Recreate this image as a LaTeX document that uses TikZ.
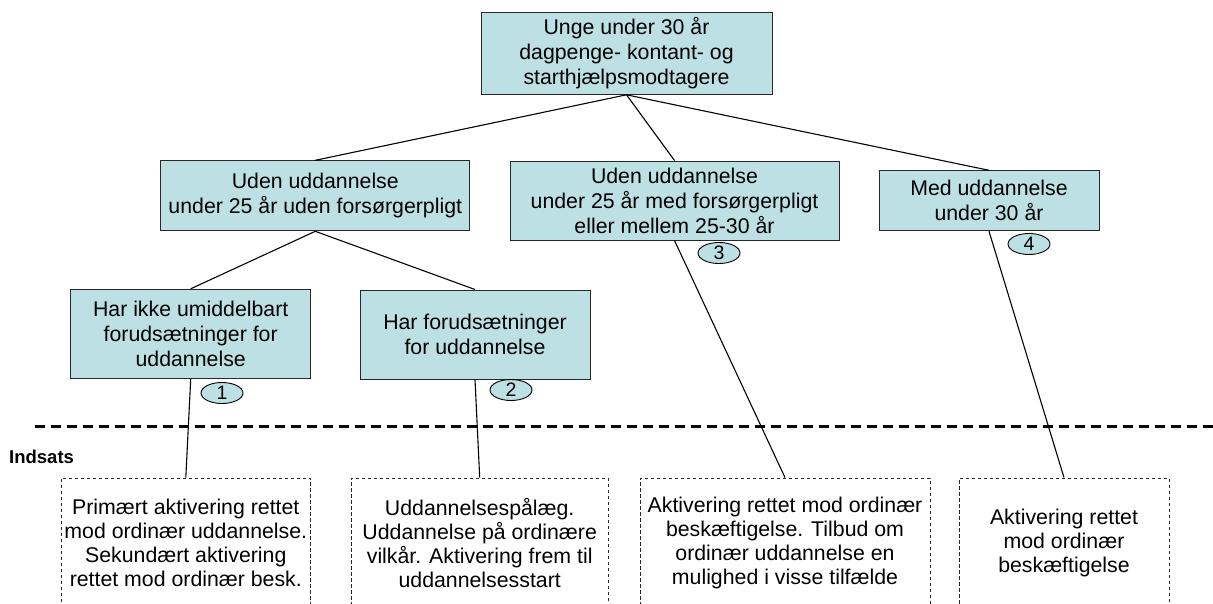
\documentclass[tikz,border=0pt]{standalone}
\usepackage{fontspec}
\setmainfont{Liberation Sans}
\usetikzlibrary{shapes.geometric}
\definecolor{boxfill}{RGB}{188,224,228}
\definecolor{edge}{RGB}{40,40,40}
\begin{document}
\begin{tikzpicture}[x=1pt,y=-1pt,
  cat/.style={draw=edge, line width=1pt, fill=boxfill, align=center, inner sep=0pt,
    font=\fontsize{21.3}{25}\selectfont},
  act/.style={draw=edge, dash pattern=on 3.5pt off 2.5pt, line width=0.9pt, align=center,
    inner sep=0pt, minimum height=130pt, font=\fontsize{21.3}{24}\selectfont},
  num/.style={ellipse, draw=black, fill=boxfill, line width=0.9pt, minimum width=42pt,
    minimum height=21pt, inner sep=0pt, font=\fontsize{19.5}{19.5}\selectfont},
  link/.style={draw=black, line width=1.1pt},
  sep/.style={draw=black, line width=2.7pt, dash pattern=on 10pt off 6pt}]
\clip (0,0) rectangle (1213,603);
\fill[white] (0,0) rectangle (1213,603);

% category boxes
\node[cat, minimum width=291pt, minimum height=81.6pt] (top) at (626.5,53.5)
  {Unge under 30 år\\dagpenge- kontant- og\\starthjælpsmodtagere};
\node[cat, minimum width=309pt, minimum height=70pt] (ml) at (315.3,195.8)
  {Uden uddannelse\\under 25 år uden forsørgerpligt};
\node[cat, minimum width=329pt, minimum height=79pt] (mc) at (674.5,200.5)
  {Uden uddannelse\\under 25 år med forsørgerpligt\\eller mellem 25-30 år};
\node[cat, minimum width=220pt, minimum height=60pt] (mr) at (989,200.8)
  {Med uddannelse\\under 30 år};
\node[cat, minimum width=240pt, minimum height=89.4pt] (hi) at (190.7,334)
  {Har ikke umiddelbart\\forudsætninger for\\uddannelse};
\node[cat, minimum width=230pt, minimum height=89pt] (hf) at (475,334.5)
  {Har forudsætninger\\for uddannelse};

% number ellipses
\node[num] (e1) at (222,393) {1};
\node[num] (e2) at (511,390) {2};
\node[num] (e3) at (719,253) {3};
\node[num] (e4) at (1029,244) {4};

% separator
\coordinate (sepL) at (35,426.5);
\coordinate (sepR) at (1213,426.5);
\draw[sep] (sepL) -- (sepR);
\node[anchor=west, inner sep=0pt, font=\fontsize{18.5}{18.5}\selectfont\bfseries] (ind) at (9,457) {Indsats};

% action boxes
\node[act, minimum width=249.7pt] (b1) at (185.8,543)
  {Primært aktivering rettet\\mod ordinær uddannelse.\\Sekundært aktivering\\rettet mod ordinær besk.};
\node[act, minimum width=257pt] (b2) at (479.7,543)
  {Uddannelsespålæg.\\Uddannelse på ordinære\\vilkår. Aktivering frem til\\uddannelsesstart};
\node[act, minimum width=290pt] (b3) at (785,543)
  {Aktivering rettet mod ordinær\\beskæftigelse. Tilbud om\\ordinær uddannelse en\\mulighed i visse tilfælde};
\node[act, minimum width=210pt] (b4) at (1064,543)
  {Aktivering rettet\\mod ordinær\\beskæftigelse};

% connectors
\draw[link] (top.south) -- (ml.north);
\draw[link] (top.south) -- (mc.north);
\draw[link] (top.south) -- (mr.north);
\draw[link] (ml.south) -- (hi.north);
\draw[link] (ml.south) -- (hf.north);
\draw[link] (hi.south) -- (b1.north);
\draw[link] (hf.south) -- (b2.north);
\draw[link] (mc.south) -- (b3.north);
\draw[link] (mr.south) -- (b4.north);
\end{tikzpicture}
\end{document}
